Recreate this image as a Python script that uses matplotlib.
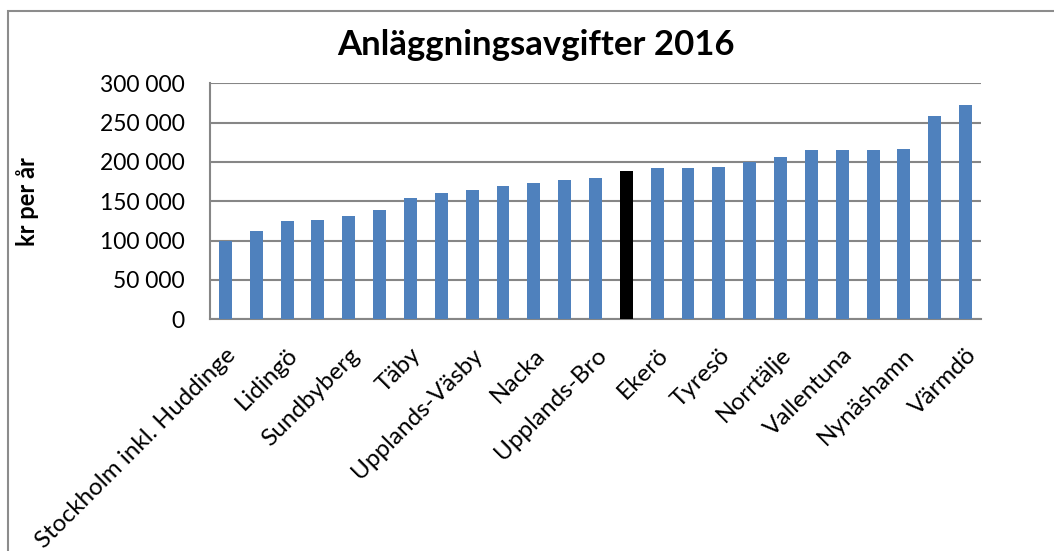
import numpy as np
import matplotlib.pyplot as plt
from matplotlib.patches import Rectangle

plt.rcParams['font.family'] = ['Lato', 'DejaVu Sans']

# annual fee (kr per år), sorted ascending; 25 municipalities
values = [99000, 112000, 125000, 126000, 131000, 139000, 154000, 160000,
          165000, 169000, 173000, 177000, 179000, 189000, 192000, 192000,
          194000, 200000, 206000, 215000, 215000, 215000, 217000, 259000,
          273000]
highlight = 13  # black bar

# only every other category label is shown in the chart
shown_labels = ["Stockholm inkl. Huddinge", "Lidingö", "Sundbyberg", "Täby",
                "Upplands-Väsby", "Nacka", "Upplands-Bro", "Ekerö", "Tyresö",
                "Norrtälje", "Vallentuna", "Nynäshamn", "Värmdö"]
yticks = [0, 50000, 100000, 150000, 200000, 250000, 300000]

blue = '#4f81bd'
grid = '#868686'

fig = plt.figure(figsize=(10.54, 5.51), dpi=100)
fig.patches.append(Rectangle((8 / 1054, -0.1), 1.2, (551 - 11) / 551 + 0.1,
                             transform=fig.transFigure, fill=False,
                             edgecolor='#8c8c8c', linewidth=1.5))

ax = fig.add_axes([210 / 1054, 1 - 319.3 / 551, 771 / 1054, 236 / 551])
x = np.arange(len(values))
colors = [blue] * len(values)
colors[highlight] = 'black'
ax.bar(x, values, width=0.42, color=colors, zorder=3)

ax.set_xlim(-0.5, len(values) - 0.5)
ax.set_ylim(0, 300000)
ax.set_yticks(yticks)
ax.set_yticklabels([f"{v:,}".replace(",", " ") for v in yticks], fontsize=16.5)
ax.yaxis.grid(True, color=grid, linewidth=1.5, zorder=0)
ax.tick_params(axis='both', length=0)
ax.tick_params(axis='y', pad=18)

ax.set_xticks(x[::2])
ax.set_xticklabels(shown_labels, rotation=45, ha='right', va='top',
                   rotation_mode='anchor', fontsize=17.5)
ax.tick_params(axis='x', pad=18)

for side in ['top', 'right']:
    ax.spines[side].set_visible(False)
for side in ['left', 'bottom']:
    ax.spines[side].set_color(grid)
    ax.spines[side].set_linewidth(1.5)

ax.set_ylabel("kr per år", fontsize=17, fontweight='bold', labelpad=44)
fig.text(536 / 1054, 1 - 45 / 551, "Anläggningsavgifter 2016",
         ha='center', va='center', fontsize=25, fontweight='bold')

fig.savefig('out.png', dpi=100)
